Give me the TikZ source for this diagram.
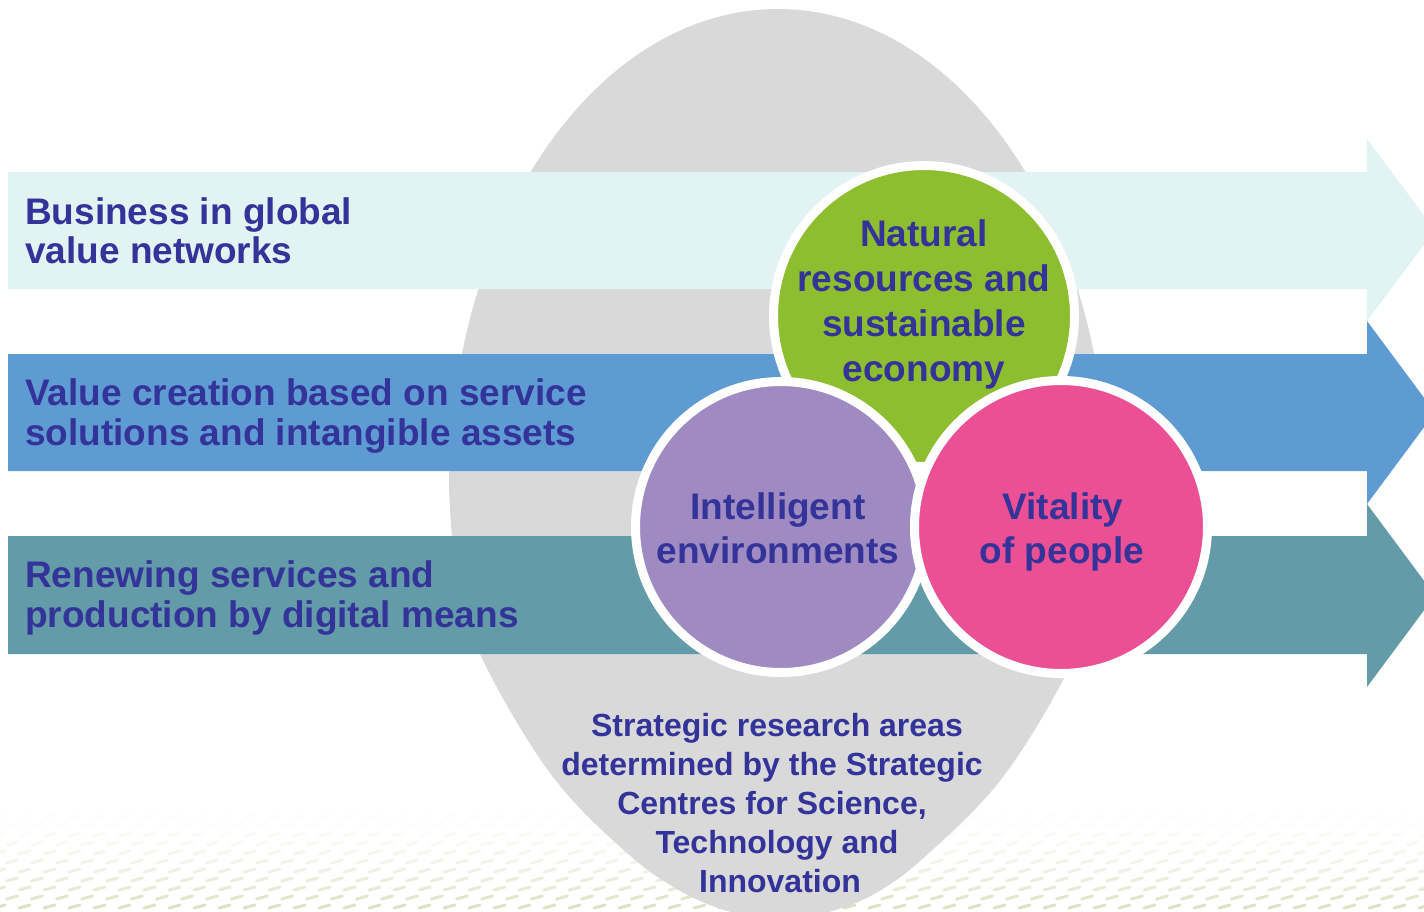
\documentclass[tikz,border=0pt]{standalone}
\usepackage{fontspec}
\setmainfont{Liberation Sans}
\definecolor{txt}{RGB}{51,51,153}
\definecolor{ell}{RGB}{217,217,217}
\definecolor{bandA}{RGB}{226,243,243}
\definecolor{bandB}{RGB}{94,155,210}
\definecolor{bandC}{RGB}{99,155,168}
\definecolor{grn}{RGB}{141,190,47}
\definecolor{prp}{RGB}{159,139,194}
\definecolor{pnk}{RGB}{235,80,148}
\definecolor{pat}{RGB}{196,210,160}
\begin{document}
\begin{tikzpicture}[x=1pt,y=-1pt,
  bandtxt/.style={anchor=base west, inner sep=0pt, text=txt, font=\fontsize{37}{44}\selectfont\bfseries},
  circtxt/.style={anchor=base, inner sep=0pt, text=txt, font=\fontsize{37}{44}\selectfont\bfseries},
  bottxt/.style={anchor=base, inner sep=0pt, text=txt, font=\fontsize{32}{38}\selectfont\bfseries},
  disc/.style={circle, draw=white, line width=9pt, inner sep=0pt}]
\useasboundingbox (0,0) rectangle (1424,911);
\clip (0,0) rectangle (1424,911);
% faint background pattern
\foreach \r in {0,...,10}{
  \pgfmathsetmacro\yy{818+9*\r}
  \pgfmathsetmacro\op{0.04+0.56*(\r/10)^1.6}
  \pgfmathsetmacro\sh{mod(\r,2)*12.5}
  \foreach \c in {0,...,57}{
    \draw[pat, line width=3pt, line cap=round, opacity=\op] (\c*25+\sh-6,\yy) -- ++(11,-3);
  }
}
% grey egg-shaped ellipse
\fill[ell] (449,487) arc[start angle=180, end angle=360, x radius=329, y radius=478]
  -- plot[smooth, tension=0.6] coordinates {(1107,487) (1100,570) (1076,654) (1006,773) (929,853) (876,893) (826,913) (780,922) (734,913) (684,893) (627,853) (550,773) (480,654) (456,570) (449,487)}
  -- cycle;
% bands
\fill[bandA] (8,172) -- (1367,172) -- (1367,139) -- (1435,230) -- (1367,321) -- (1367,289) -- (8,289) -- cycle;
\fill[bandB] (8,354) -- (1367,354) -- (1367,321) -- (1435,412.5) -- (1367,504) -- (1367,471) -- (8,471) -- cycle;
\fill[bandC] (8,536) -- (1367,536) -- (1367,504) -- (1435,595.5) -- (1367,687) -- (1367,654) -- (8,654) -- cycle;
% band texts
\node[bandtxt] (b1a) at (25,224) {Business in global};
\node[bandtxt] (b1b) at (25,263) {value networks};
\node[bandtxt] (b2a) at (25,405) {Value creation based on service};
\node[bandtxt] (b2b) at (25,445) {solutions and intangible assets};
\node[bandtxt] (b3a) at (25,587) {Renewing services and};
\node[bandtxt] (b3b) at (25,627) {production by digital means};
% circles
\node[disc, fill=grn, minimum size=301pt] (green) at (924,316) {};
\node[disc, fill=prp, minimum size=291pt] (purple) at (781,527) {};
\node[disc, fill=pnk, minimum size=293pt] (pink) at (1061,527) {};
% circle texts
\node[circtxt] (g1) at (924,246) {Natural};
\node[circtxt] (g2) at (924,291) {resources and};
\node[circtxt] (g3) at (924,336) {sustainable};
\node[circtxt] (g4) at (924,381) {economy};
\node[circtxt] (p1) at (778,519) {Intelligent};
\node[circtxt] (p2) at (778,563) {environments};
\node[circtxt] (k1) at (1063,519) {Vitality};
\node[circtxt] (k2) at (1062,563) {of people};
% bottom text
\node[bottxt] (s1) at (777,736) {Strategic research areas};
\node[bottxt] (s2) at (772,775) {determined by the Strategic};
\node[bottxt] (s3) at (772,814) {Centres for Science,};
\node[bottxt] (s4) at (777,853) {Technology and};
\node[bottxt] (s5) at (780,892) {Innovation};
\end{tikzpicture}
\end{document}
